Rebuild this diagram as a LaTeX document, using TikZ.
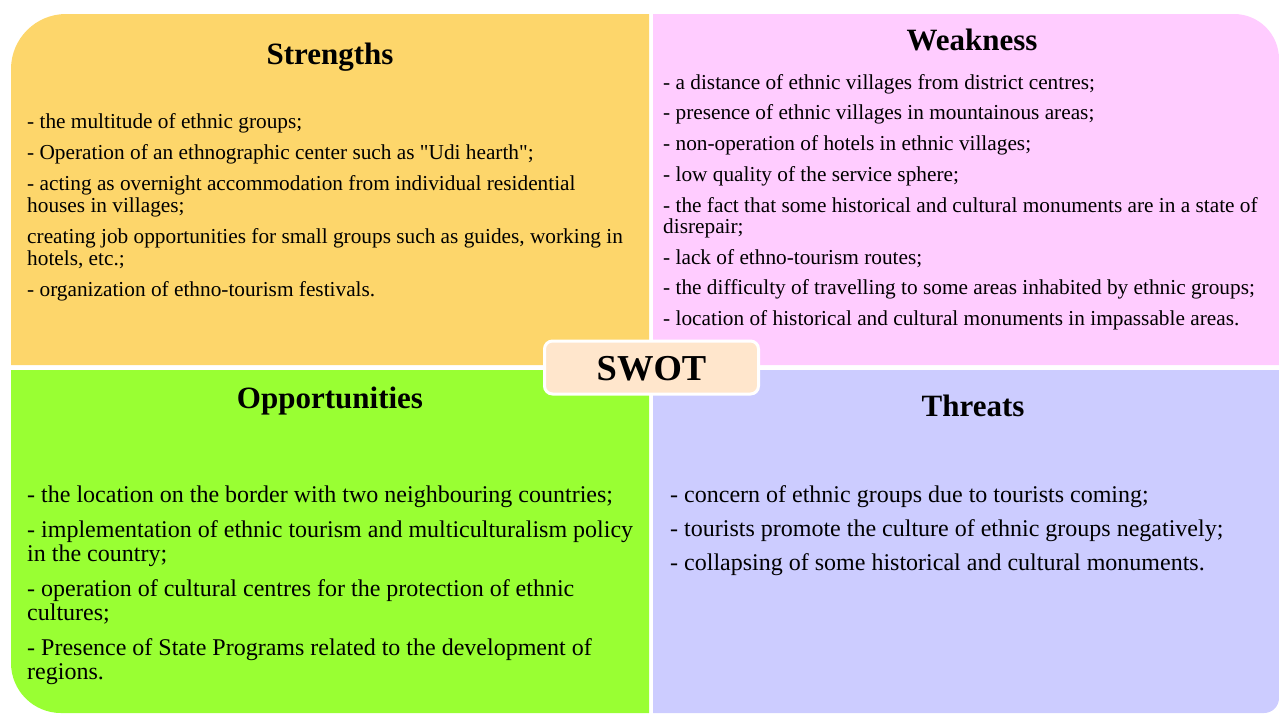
\documentclass[tikz,border=0pt]{standalone}
\usepackage{fontspec}
\setmainfont{Liberation Serif}[Ligatures=TeXOff]
\definecolor{strcol}{HTML}{FDD66B}
\definecolor{weakcol}{HTML}{FFCCFF}
\definecolor{oppcol}{HTML}{99FF33}
\definecolor{thrcol}{HTML}{CCCCFF}
\definecolor{swotcol}{HTML}{FFE6CC}
\begin{document}
\begin{tikzpicture}[x=1pt,y=-1pt,
  heading/.style={anchor=base, inner sep=0pt, font=\fontsize{31}{34}\selectfont\bfseries},
  listsmall/.style={anchor=base west, inner sep=0pt, font=\fontsize{21.3}{22}\selectfont},
  listlarge/.style={anchor=base west, inner sep=0pt, font=\fontsize{24}{23.5}\selectfont},
]
\useasboundingbox (0,0) rectangle (1279,713);

% four quadrants
\fill[strcol] (11,365) -- (11,69) arc[start angle=180,end angle=270,radius=55] -- (649,14) -- (649,365) -- cycle;
\fill[weakcol] (653,14) -- (1234,14) arc[start angle=270,end angle=360,radius=45] -- (1279,365) -- (653,365) -- cycle;
\fill[oppcol] (11,370) -- (649,370) -- (649,713) -- (61,713) arc[start angle=90,end angle=180,radius=50] -- cycle;
\fill[thrcol] (653,370) -- (1279,370) -- (1279,698) arc[start angle=0,end angle=90,radius=15] -- (653,713) -- cycle;

% headings
\node[heading] (sh) at (330,64) {Strengths};
\node[heading] (wh) at (972,50) {Weakness};
\node[heading] (oh) at (330,408) {Opportunities};
\node[heading] (th) at (973,416) {Threats};

% item lists
\node[listsmall] (sl) at (27,128.5) {\begin{tabular}[t]{@{}l@{}}
- the multitude of ethnic groups;\\[9pt]
- Operation of an ethnographic center such as "Udi hearth";\\[9pt]
- acting as overnight accommodation from individual residential\\
houses in villages;\\[9pt]
creating job opportunities for small groups such as guides, working in\\
hotels, etc.;\\[9pt]
- organization of ethno-tourism festivals.
\end{tabular}};

\node[listsmall, font=\fontsize{21.3}{21}\selectfont] (wl) at (663,89) {\begin{tabular}[t]{@{}l@{}}
- a distance of ethnic villages from district centres;\\[9.5pt]
- presence of ethnic villages in mountainous areas;\\[9.5pt]
- non-operation of hotels in ethnic villages;\\[9.5pt]
- low quality of the service sphere;\\[9.5pt]
- the fact that some historical and cultural monuments are in a state of\\
disrepair;\\[9.5pt]
- lack of ethno-tourism routes;\\[9.5pt]
- the difficulty of travelling to some areas inhabited by ethnic groups;\\[9.5pt]
- location of historical and cultural monuments in impassable areas.
\end{tabular}};

\node[listlarge] (ol) at (27,502) {\begin{tabular}[t]{@{}l@{}}
- the location on the border with two neighbouring countries;\\[11.5pt]
- implementation of ethnic tourism and multiculturalism policy\\
in the country;\\[11.5pt]
- operation of cultural centres for the protection of ethnic\\
cultures;\\[11.5pt]
- Presence of State Programs related to the development of\\
regions.
\end{tabular}};

\node[listlarge] (tl) at (670,502) {\begin{tabular}[t]{@{}l@{}}
- concern of ethnic groups due to tourists coming;\\[10.5pt]
- tourists promote the culture of ethnic groups negatively;\\[10.5pt]
- collapsing of some historical and cultural monuments.
\end{tabular}};

% centre label
\node[draw=white, line width=3pt, fill=swotcol, rounded corners=8pt,
      minimum width=214pt, minimum height=53pt, inner sep=0pt] (swot) at (651.5,367.5) {};
\node[anchor=base, inner sep=0pt, font=\fontsize{36.5}{40}\selectfont\bfseries] (swottext) at (651.5,380) {SWOT};
\end{tikzpicture}
\end{document}
